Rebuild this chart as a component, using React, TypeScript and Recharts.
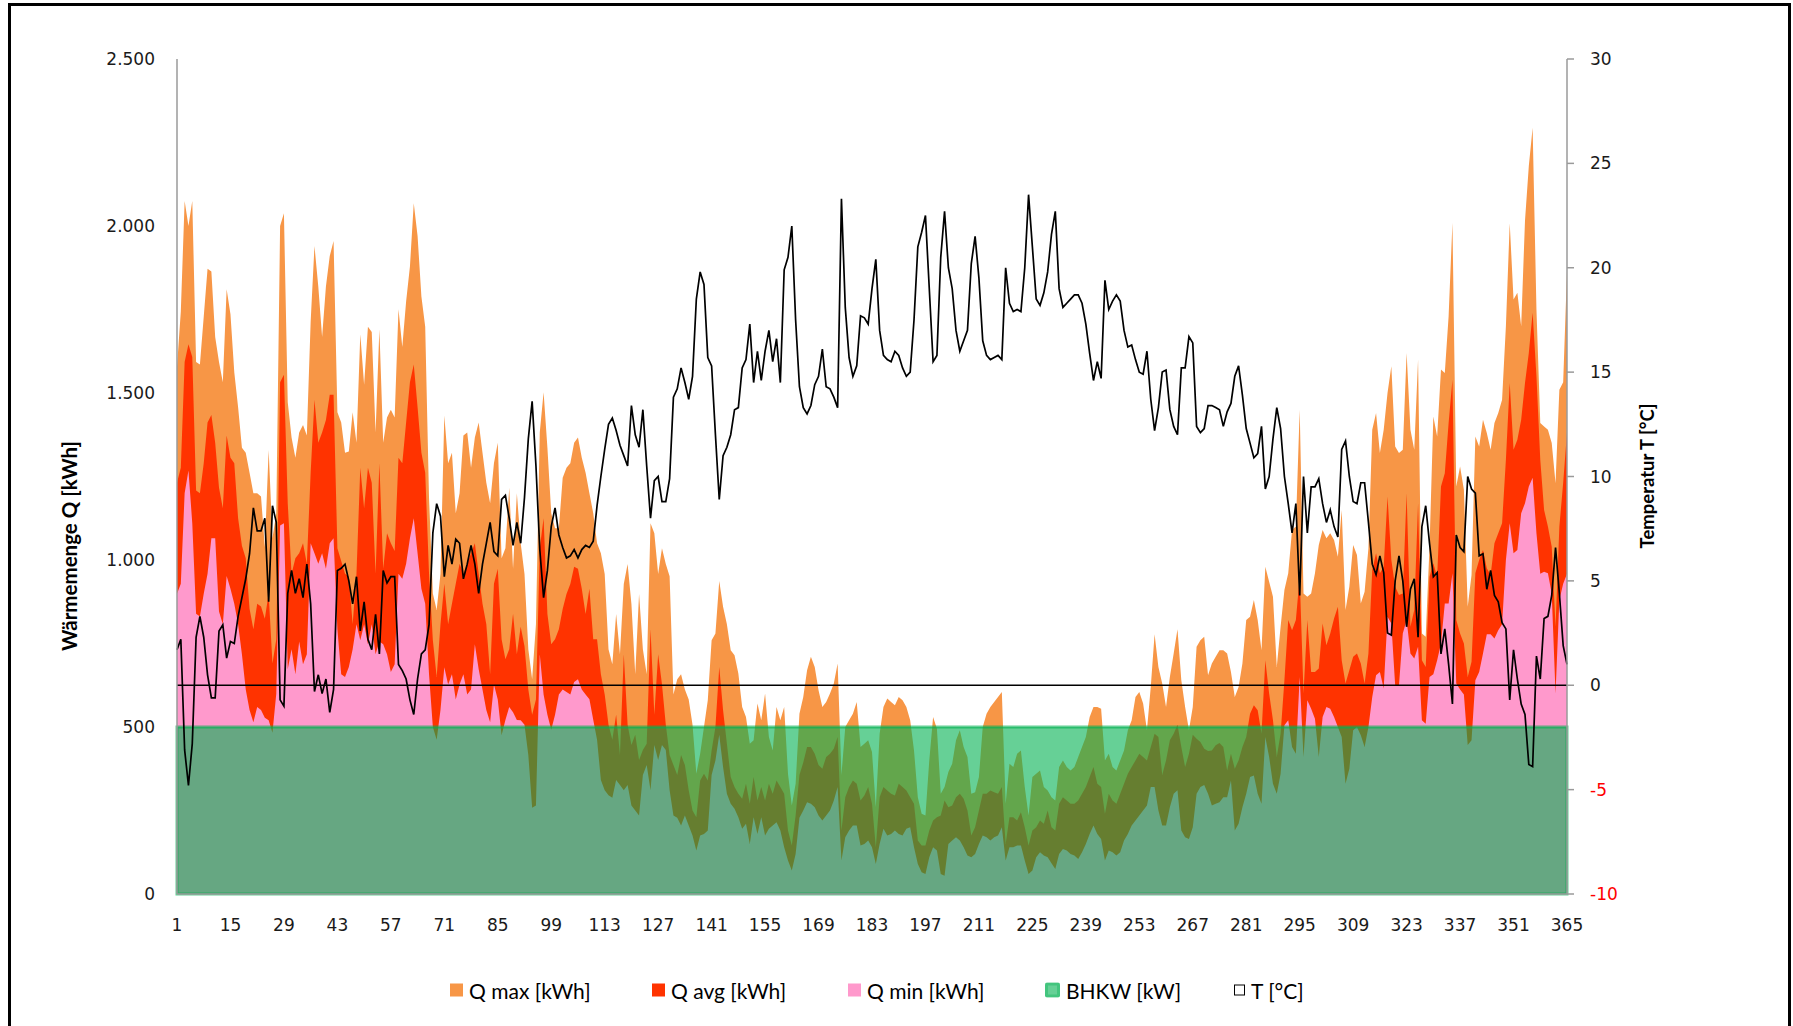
import React from 'react';
import { ComposedChart, Area, Line, XAxis, YAxis, ReferenceLine, ReferenceArea } from 'recharts';

// Tagesnummern 1..365 (Kategorien der x-Achse)
const days: number[] = Array.from({ length: 365 }, (_, i) => i + 1);

const xTicks = [1, 15, 29, 43, 57, 71, 85, 99, 113, 127, 141, 155, 169, 183, 197, 211, 225, 239, 253, 267, 281, 295, 309, 323, 337, 351, 365];
const leftTicks = [0, 500, 1000, 1500, 2000, 2500];
const rightTicks = [-10, -5, 0, 5, 10, 15, 20, 25, 30];

// Q max [kWh]
const qMax = [
  1578, 1744, 2075, 2000, 2075, 1593, 1585, 1728, 1872, 1864,
  1668, 1593, 1532, 1811, 1736, 1562, 1457, 1336, 1321, 1261,
  1200, 1200, 1190, 1038, 1329, 1065, 1140, 2000, 2038, 1472,
  1367, 1306, 1382, 1404, 1373, 1713, 1940, 1819, 1668, 1819,
  1910, 1955, 1442, 1412, 1321, 1325, 1442, 1351, 1676, 1525,
  1698, 1683, 1382, 1691, 1351, 1427, 1450, 1427, 1751, 1638,
  1774, 1879, 2068, 1970, 1789, 1698, 1186, 900, 850, 959,
  1433, 1290, 1321, 1140, 1200, 1373, 1382, 1276, 1367, 1412,
  1321, 1231, 1170, 1290, 1351, 1005, 1035, 1216, 974, 1200,
  1050, 958, 733, 643, 808, 1382, 1502, 1336, 1140, 1095,
  1095, 1246, 1276, 1290, 1351, 1367, 1306, 1261, 1200, 1140,
  1050, 1020, 958, 733, 688, 838, 718, 928, 988, 868,
  658, 898, 733, 658, 1110, 1080, 958, 1035, 988, 951,
  597, 643, 658, 612, 582, 507, 360, 420, 500, 580,
  760, 780, 937, 860, 808, 730, 715, 660, 560, 530,
  450, 460, 570, 520, 600, 470, 430, 560, 520, 560,
  360, 265, 330, 540, 590, 670, 710, 680, 610, 560,
  575, 600, 630, 690, 356, 500, 520, 540, 575, 440,
  450, 460, 425, 260, 480, 560, 585, 575, 565, 590,
  580, 560, 520, 430, 290, 240, 235, 400, 530, 495,
  300, 320, 365, 390, 460, 490, 440, 410, 300, 305,
  350, 500, 540, 560, 575, 590, 605, 270, 390, 380,
  420, 430, 320, 235, 350, 360, 370, 320, 310, 290,
  280, 380, 400, 380, 370, 380, 410, 440, 470, 530,
  560, 560, 555, 400, 420, 380, 370, 400, 430, 490,
  520, 590, 605, 570, 490, 620, 778, 680, 630, 560,
  650, 720, 793, 640, 560, 490, 560, 740, 760, 770,
  655, 690, 710, 730, 730, 720, 665, 590, 620, 690,
  820, 830, 880, 820, 730, 980, 935, 890, 680, 800,
  910, 960, 1090, 1100, 1450, 900, 890, 900, 960, 1045,
  1090, 1065, 1080, 1060, 1010, 1150, 850, 920, 1045, 1015,
  870, 905, 1035, 1390, 1440, 1320, 1390, 1500, 1580, 1340,
  1320, 1330, 1620, 1390, 1330, 1600, 780, 770, 1040, 1430,
  1370, 1570, 1560, 1730, 2010, 1220, 1280, 1210, 860, 955,
  1370, 1340, 1420, 1380, 1330, 1410, 1440, 1480, 1700, 2008,
  1780, 1800, 1700, 2016, 2180, 2294, 1750, 1410, 1400, 1390,
  1350, 1230, 1510, 1532, 1864,
];

// Q avg [kWh]
const qAvg = [
  1231, 1276, 1593, 1646, 1608, 1208, 1200, 1290, 1412, 1434,
  1351, 1216, 1155, 1373, 1306, 1290, 1125, 1043, 1005, 854,
  793, 869, 861, 824, 900, 690, 763, 1532, 1555, 1170,
  959, 1005, 1020, 1050, 989, 1261, 1480, 1351, 1382, 1419,
  1495, 1495, 1035, 997, 959, 950, 808, 959, 1276, 1155,
  1276, 1231, 959, 1290, 974, 1080, 1050, 1027, 1306, 1290,
  1412, 1532, 1585, 1457, 1321, 1261, 959, 760, 650, 808,
  929, 808, 869, 929, 989, 959, 989, 1020, 1050, 959,
  869, 808, 658, 929, 974, 763, 703, 733, 839, 718,
  800, 742, 612, 537, 582, 1035, 1125, 838, 748, 763,
  793, 853, 898, 928, 980, 974, 914, 838, 914, 763,
  763, 658, 597, 507, 462, 537, 416, 718, 507, 446,
  477, 401, 431, 450, 793, 537, 718, 628, 507, 416,
  386, 356, 416, 386, 311, 250, 230, 340, 360, 340,
  430, 500, 680, 550, 450, 350, 320, 300, 285, 330,
  270, 350, 280, 320, 280, 330, 300, 340, 320, 300,
  190, 145, 235, 356, 394, 440, 440, 420, 386, 375,
  410, 420, 435, 470, 190, 290, 320, 340, 330, 280,
  295, 320, 270, 140, 290, 320, 310, 300, 295, 330,
  320, 310, 290, 270, 160, 145, 145, 190, 220, 230,
  235, 280, 260, 265, 290, 300, 285, 250, 175, 200,
  250, 300, 300, 310, 305, 300, 320, 150, 230, 230,
  220, 245, 200, 145, 190, 200, 220, 210, 250, 200,
  190, 270, 290, 280, 270, 270, 280, 300, 320, 350,
  380, 330, 320, 240, 300, 280, 270, 300, 330, 360,
  380, 400, 420, 410, 400, 440, 480, 470, 356, 400,
  460, 480, 507, 440, 380, 420, 477, 465, 455, 435,
  428, 430, 445, 452, 440, 370, 420, 375, 400, 440,
  470, 540, 565, 550, 480, 700, 600, 520, 410, 480,
  640, 820, 790, 820, 950, 600, 820, 665, 665, 675,
  810, 745, 780, 825, 860, 700, 630, 670, 710, 720,
  690, 630, 720, 970, 1020, 960, 980, 1190, 1000, 920,
  895, 900, 1200, 800, 850, 1170, 700, 680, 950, 990,
  950, 1220, 1260, 1410, 1540, 820, 780, 750, 650, 695,
  960, 1000, 1030, 975, 955, 1050, 1080, 1110, 1300, 1530,
  1330, 1360, 1420, 1530, 1620, 1740, 1550, 1300, 1150, 1100,
  1040, 800, 1100, 1231, 1382,
];

// Q min [kWh]
const qMin = [
  899, 929, 1200, 1268, 1110, 839, 831, 899, 959, 1065,
  1065, 846, 808, 952, 914, 869, 808, 718, 612, 551,
  514, 560, 551, 528, 520, 483, 600, 1103, 1110, 673,
  733, 658, 756, 688, 718, 1050, 1020, 989, 1020, 974,
  1050, 1065, 793, 658, 650, 680, 733, 808, 760, 808,
  748, 808, 718, 756, 748, 718, 665, 688, 959, 944,
  989, 1065, 1125, 1020, 914, 869, 658, 500, 462, 551,
  679, 627, 658, 582, 627, 658, 597, 612, 748, 673,
  612, 551, 514, 627, 582, 475, 521, 560, 544, 521,
  520, 507, 416, 258, 265, 718, 597, 537, 492, 537,
  597, 612, 605, 597, 635, 643, 612, 597, 583, 522,
  462, 341, 311, 296, 288, 341, 326, 311, 326, 265,
  250, 235, 356, 386, 311, 446, 401, 446, 431, 311,
  235, 228, 205, 235, 205, 175, 130, 175, 180, 190,
  356, 400, 477, 380, 300, 270, 255, 230, 195, 210,
  150, 230, 180, 230, 175, 195, 205, 215, 190, 140,
  100, 70, 120, 228, 250, 275, 270, 260, 235, 220,
  235, 250, 280, 320, 100, 170, 190, 205, 205, 145,
  150, 160, 140, 90, 150, 195, 175, 180, 190, 180,
  175, 195, 200, 140, 90, 65, 60, 110, 140, 130,
  60, 55, 150, 160, 170, 160, 140, 115, 110, 120,
  150, 175, 170, 160, 170, 175, 200, 100, 140, 140,
  145, 145, 100, 60, 70, 110, 125, 115, 110, 92,
  75, 120, 135, 130, 120, 115, 105, 125, 150, 180,
  205, 180, 165, 100, 130, 125, 115, 125, 160, 180,
  205, 220, 235, 250, 265, 320, 320, 250, 205, 205,
  260, 300, 311, 190, 170, 165, 200, 300, 320, 326,
  300, 265, 270, 275, 290, 290, 340, 190, 210, 260,
  300, 350, 355, 300, 270, 470, 410, 330, 300, 360,
  505, 520, 440, 420, 650, 410, 580, 555, 525, 410,
  530, 560, 555, 530, 500, 470, 330, 375, 490, 500,
  475, 440, 500, 590, 655, 665, 615, 830, 810, 625,
  625, 780, 820, 720, 705, 740, 520, 510, 650, 658,
  700, 750, 870, 870, 960, 630, 612, 597, 446, 460,
  640, 665, 720, 778, 778, 765, 790, 808, 1000, 1110,
  1020, 1030, 1140, 1170, 1220, 1246, 1080, 959, 965, 960,
  900, 600, 880, 929, 959,
];

// T [°C]
const temp = [
  1.7, 2.2, -3.1, -4.8, -2.8, 2.3, 3.3, 2.3, 0.5, -0.6,
  -0.6, 2.6, 2.9, 1.3, 2.1, 2.0, 3.3, 4.2, 5.1, 6.3,
  8.5, 7.4, 7.4, 8.0, 4.0, 8.6, 7.8, -0.7, -1.0, 4.4,
  5.5, 4.4, 5.1, 4.2, 5.8, 3.9, -0.3, 0.5, -0.4, 0.3,
  -1.3, -0.2, 5.5, 5.6, 5.8, 5.0, 3.9, 5.2, 2.6, 4.0,
  2.2, 1.7, 3.4, 1.5, 5.5, 4.9, 5.2, 5.2, 1.0, 0.7,
  0.3, -0.7, -1.4, 0.3, 1.5, 1.7, 2.9, 7.3, 8.7, 8.1,
  5.2, 6.7, 5.8, 7.0, 6.8, 5.1, 5.8, 6.7, 5.8, 4.4,
  5.8, 6.8, 7.8, 6.4, 6.2, 8.9, 9.1, 8.0, 6.7, 7.8,
  6.8, 9.0, 11.8, 13.6, 10.5, 6.5, 4.2, 5.5, 7.6, 8.5,
  7.2, 6.6, 6.1, 6.2, 6.5, 6.1, 6.5, 6.7, 6.6, 6.9,
  8.6, 10.0, 11.3, 12.5, 12.8, 12.2, 11.5, 11.0, 10.5, 13.4,
  12.0, 11.4, 13.2, 10.5, 8.0, 9.8, 10.0, 8.8, 8.8, 9.9,
  13.8, 14.2, 15.2, 14.5, 13.7, 14.8, 18.5, 19.8, 19.2, 15.7,
  15.3, 12.0, 8.9, 11.0, 11.4, 12.0, 13.2, 13.3, 15.2, 15.6,
  17.3, 14.5, 16.0, 14.6, 16.0, 17.0, 15.5, 16.6, 14.5, 19.9,
  20.5, 22.0, 17.5, 14.3, 13.3, 13.0, 13.4, 14.4, 14.8, 16.1,
  14.3, 14.2, 13.8, 13.3, 23.3, 18.1, 15.7, 14.8, 15.3, 17.7,
  17.6, 17.3, 19.0, 20.4, 17.0, 15.8, 15.6, 15.5, 16.0, 15.8,
  15.2, 14.8, 15.0, 17.5, 21.0, 21.7, 22.5, 19.0, 15.5, 15.8,
  20.5, 22.7, 20.0, 19.0, 17.0, 16.0, 16.5, 17.0, 20.2, 21.5,
  19.5, 16.5, 15.8, 15.6, 15.7, 15.8, 15.6, 20.0, 18.3, 17.9,
  18.0, 17.9, 20.0, 23.5, 21.0, 18.5, 18.2, 18.8, 19.8, 21.6,
  22.7, 19.0, 18.1, 18.3, 18.5, 18.7, 18.7, 18.3, 17.3, 15.9,
  14.6, 15.5, 14.7, 19.4, 18.0, 18.4, 18.7, 18.4, 17.0, 16.2,
  16.3, 15.6, 15.0, 14.9, 16.0, 13.7, 12.2, 13.3, 15.0, 15.1,
  13.2, 12.4, 12.0, 15.2, 15.2, 16.7, 16.4, 12.4, 12.1, 12.3,
  13.4, 13.4, 13.3, 13.2, 12.4, 13.1, 13.5, 14.8, 15.3, 13.9,
  12.3, 11.6, 10.9, 11.1, 12.4, 9.4, 10.0, 11.8, 13.3, 12.3,
  10.0, 8.7, 7.3, 8.7, 4.3, 10.0, 7.3, 9.5, 9.5, 9.9,
  8.7, 7.8, 8.4, 7.6, 7.1, 11.3, 11.7, 10.0, 8.8, 8.7,
  9.7, 9.7, 7.8, 5.8, 5.3, 6.2, 5.4, 2.5, 2.4, 5.0,
  6.2, 5.0, 2.8, 4.6, 5.1, 2.3, 7.6, 8.6, 6.8, 5.2,
  5.4, 1.5, 2.7, 1.0, -0.9, 7.2, 6.6, 6.4, 10.0, 9.4,
  9.2, 6.2, 6.3, 4.6, 5.5, 4.3, 4.0, 3.0, 2.7, -0.7,
  1.7, 0.3, -0.9, -1.4, -3.8, -3.9, 1.4, 0.3, 3.2, 3.3,
  4.3, 6.6, 4.4, 1.9, 1.0,
];

// BHKW-Leistung [kW], ganzjährig gleich
const bhkwKW = 500;

const rows = days.map((day, i) => ({
  day,
  qMax: qMax[i],
  qAvg: qAvg[i],
  qMin: qMin[i],
  bhkw: bhkwKW,
  temp: temp[i],
}));

const tickFont = { fontFamily: '"DejaVu Sans", Verdana, sans-serif', fontSize: 17, fill: '#1a1a1a' };
const fmtThousands = (v: number) => v.toLocaleString('de-DE');

const RightTick = (props: any) => {
  const { x, y, payload } = props;
  const v = payload.value;
  return (
    <text x={x} y={y} dy="0.355em" textAnchor="start" {...tickFont} fill={v < 0 ? '#ff0000' : '#1a1a1a'}>
      {v}
    </text>
  );
};

const legendItems = [
  { label: 'Q max [kWh]', left: 450, kind: 'qmax' },
  { label: 'Q avg [kWh]', left: 652, kind: 'qavg' },
  { label: 'Q min [kWh]', left: 848, kind: 'qmin' },
  { label: 'BHKW [kW]', left: 1045, kind: 'bhkw' },
  { label: 'T [°C]', left: 1234, kind: 'temp' },
];

const LegendSwatch = ({ kind }: { kind: string }) => {
  if (kind === 'bhkw') {
    return (
      <div style={{ width: 15, height: 15, boxSizing: 'border-box', background: 'rgba(0,176,80,0.6)', border: '3px solid rgba(0,176,80,0.35)', borderRadius: 2 }} />
    );
  }
  if (kind === 'temp') {
    return <div style={{ width: 11, height: 11, boxSizing: 'border-box', background: '#fff', border: '1.5px solid #000' }} />;
  }
  const colors: Record<string, string> = { qmax: '#F79646', qavg: '#FF3300', qmin: '#FF99CC' };
  return <div style={{ width: 13, height: 13, background: colors[kind] }} />;
};

export default function App() {
  return (
    <div style={{ position: 'fixed', left: 0, top: 0, width: 1793, height: 1026, background: '#fff', overflow: 'hidden' }}>
      <div style={{ position: 'absolute', left: 8, top: 3, width: 1783, height: 1100, border: '3px solid #000', boxSizing: 'border-box' }} />
      <div style={{ position: 'absolute', left: 0, top: 0 }}>
        <ComposedChart width={1793} height={1026} data={rows} margin={{ top: 59, right: 166, bottom: 92, left: 97 }}>
          <XAxis
            dataKey="day"
            type="number"
            domain={[1, 365]}
            ticks={xTicks}
            interval={0}
            tickLine={false}
            tickSize={0}
            tickMargin={25}
            axisLine={{ stroke: '#9a9a9a', strokeWidth: 1.5 }}
            tick={tickFont}
            height={40}
          />
          <YAxis
            yAxisId="left"
            domain={[0, 2500]}
            ticks={leftTicks}
            tickFormatter={fmtThousands}
            tickLine={false}
            tickSize={0}
            tickMargin={22}
            axisLine={{ stroke: '#9a9a9a', strokeWidth: 1.5 }}
            tick={tickFont}
            width={80}
          />
          <YAxis
            yAxisId="right"
            orientation="right"
            domain={[-10, 30]}
            ticks={rightTicks}
            tickSize={7}
            tickMargin={16}
            tickLine={{ stroke: '#9a9a9a', strokeWidth: 1.5 }}
            axisLine={{ stroke: '#9a9a9a', strokeWidth: 1.5 }}
            tick={RightTick}
            width={60}
          />
          <Area yAxisId="left" dataKey="qMax" name="Q max [kWh]" type="linear" fill="#F79646" fillOpacity={1} stroke="none" isAnimationActive={false} dot={false} activeDot={false} />
          <Area yAxisId="left" dataKey="qAvg" name="Q avg [kWh]" type="linear" fill="#FF3300" fillOpacity={1} stroke="none" isAnimationActive={false} dot={false} activeDot={false} />
          <Area yAxisId="left" dataKey="qMin" name="Q min [kWh]" type="linear" fill="#FF99CC" fillOpacity={1} stroke="none" isAnimationActive={false} dot={false} activeDot={false} />
          <Area yAxisId="left" dataKey="bhkw" name="BHKW [kW]" type="linear" fill="#00B050" fillOpacity={0.6} stroke="none" isAnimationActive={false} dot={false} activeDot={false} />
          <ReferenceArea yAxisId="left" x1={1} x2={365} y1={0} y2={bhkwKW} fill="none" stroke="#00B050" strokeOpacity={0.6} strokeWidth={3} />
          <ReferenceLine yAxisId="right" y={0} stroke="#000" strokeWidth={1.5} />
          <Line yAxisId="right" dataKey="temp" name="T [°C]" type="linear" stroke="#000" strokeWidth={1.7} dot={false} activeDot={false} isAnimationActive={false} />
        </ComposedChart>
      </div>
      <div
        style={{
          position: 'absolute', left: 69, top: 546, transform: 'translate(-50%, -50%) rotate(-90deg)',
          whiteSpace: 'nowrap', fontFamily: 'Lato, sans-serif', fontWeight: 700, fontSize: 20.5, color: '#000',
        }}
      >
        Wärmemenge Q [kWh]
      </div>
      <div
        style={{
          position: 'absolute', left: 1647, top: 476, transform: 'translate(-50%, -50%) rotate(-90deg)',
          whiteSpace: 'nowrap', fontFamily: 'Lato, sans-serif', fontWeight: 700, fontSize: 18.5, color: '#000',
        }}
      >
        Temperatur T [°C]
      </div>
      {legendItems.map((it) => (
        <div
          key={it.label}
          style={{ position: 'absolute', left: it.left, top: 990, transform: 'translateY(-50%)', display: 'flex', alignItems: 'center', gap: 6 }}
        >
          <LegendSwatch kind={it.kind} />
          <span style={{ fontFamily: 'Lato, sans-serif', fontSize: 21, color: '#000', whiteSpace: 'nowrap' }}>{it.label}</span>
        </div>
      ))}
    </div>
  );
}
